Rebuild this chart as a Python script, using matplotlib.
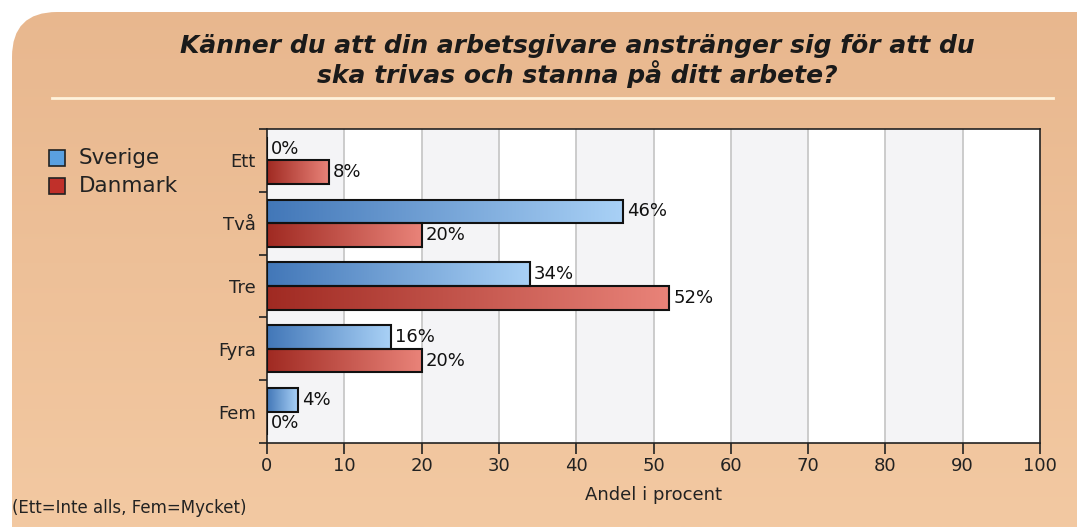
import matplotlib
matplotlib.use("Agg")
import matplotlib.pyplot as plt
import numpy as np
from matplotlib.patches import FancyBboxPatch, Rectangle
from matplotlib.colors import LinearSegmentedColormap

# data
categories = ["Ett", "Två", "Tre", "Fyra", "Fem"]
sverige = [0, 46, 34, 16, 4]
danmark = [8, 20, 52, 20, 0]
xticks = [0, 10, 20, 30, 40, 50, 60, 70, 80, 90, 100]

title = "Känner du att din arbetsgivare anstränger sig för att du\nska trivas och stanna på ditt arbete?"
xlabel = "Andel i procent"
note = "(Ett=Inte alls, Fem=Mycket)"

W, H = 1077, 527
fig = plt.figure(figsize=(W / 100, H / 100), dpi=100)
fig.patch.set_facecolor("white")

# background panel (pixel coords)
bg = fig.add_axes([0, 0, 1, 1], zorder=-5)
bg.set_xlim(0, W)
bg.set_ylim(H, 0)
bg.axis("off")
panel = FancyBboxPatch((12, 12), W + 40, H + 40, boxstyle="round,pad=0,rounding_size=45",
                       facecolor="none", edgecolor="none")
bg.add_patch(panel)
peach = LinearSegmentedColormap.from_list("peach", ["#e8b78e", "#f3c9a2"])
grad = np.linspace(0, 1, 256).reshape(-1, 1)
im = bg.imshow(grad, cmap=peach, extent=(0, W, H, 0), aspect="auto", zorder=0)
im.set_clip_path(panel)

# title + line under it
bg.text(577, 61, title, ha="center", va="center", fontsize=18, fontweight="bold",
        fontstyle="italic", color="#1a1a1a", linespacing=1.1)
bg.plot([52, 1053], [98, 98], color="#fff3dc", lw=2, zorder=2)

# legend drawn by hand
for yy, name, col in [(158, "Sverige", "#5aa0e0"), (186, "Danmark", "#c0302a")]:
    bg.add_patch(Rectangle((49, yy - 8), 16, 16, facecolor=col, edgecolor="#222222", lw=1.2, zorder=3))
    bg.text(79, yy, name, ha="left", va="center", fontsize=15.5, color="#222222")

bg.text(12, 508, note, ha="left", va="center", fontsize=12, color="#222222")

# main plot
L, R, T, B = 267, 1040, 129, 443
ax = fig.add_axes([L / W, 1 - B / H, (R - L) / W, (B - T) / H])
ax.set_xlim(0, 100)
ax.set_ylim(4.5, -0.5)
ax.set_facecolor("white")
for i in range(0, 100, 20):
    ax.axvspan(i, i + 10, color="#f4f4f6", zorder=0, lw=0)
for x in xticks[1:-1]:
    ax.axvline(x, color="#c4c4c4", lw=1.2, zorder=1)

y = np.arange(len(categories))
h = 0.375
b1 = ax.barh(y - h / 2, sverige, height=h, facecolor="none", edgecolor="#111111", lw=1.5, zorder=4)
b2 = ax.barh(y + h / 2, danmark, height=h, facecolor="none", edgecolor="#111111", lw=1.5, zorder=4)

blue = LinearSegmentedColormap.from_list("b", ["#4277b8", "#a9d1f6"])
red = LinearSegmentedColormap.from_list("r", ["#a02a22", "#e98379"])
hgrad = np.linspace(0, 1, 256).reshape(1, -1)
for bars, cm in [(b1, blue), (b2, red)]:
    for p in bars:
        if p.get_width() <= 0:
            continue
        x0, y0 = p.get_x(), p.get_y()
        gi = ax.imshow(hgrad, cmap=cm, extent=(x0, x0 + p.get_width(), y0 + h, y0),
                       aspect="auto", zorder=3)
        gi.set_clip_path(p)

for bars, vals in [(b1, sverige), (b2, danmark)]:
    for p, v in zip(bars, vals):
        ax.annotate(f"{v}%", (v, p.get_y() + h / 2), xytext=(3, 0), textcoords="offset points",
                    ha="left", va="center", fontsize=13, color="#111111", zorder=5)

ax.set_xticks(xticks)
ax.set_xticklabels([str(t) for t in xticks], fontsize=13, color="#222222")
ax.set_yticks(y)
ax.set_yticklabels(categories, fontsize=13, color="#222222")
ax.tick_params(axis="y", which="major", length=0, pad=8)
ax.set_yticks(np.arange(-0.5, 5, 1), minor=True)
ax.tick_params(axis="y", which="minor", length=6, width=1.2, color="#222222")
ax.tick_params(axis="x", length=8, width=1.2, color="#222222", pad=2)
for s in ax.spines.values():
    s.set_color("#222222")
    s.set_linewidth(1.2)
ax.set_xlabel(xlabel, fontsize=13, color="#222222", labelpad=8)

fig.savefig("out.png", dpi=100)
